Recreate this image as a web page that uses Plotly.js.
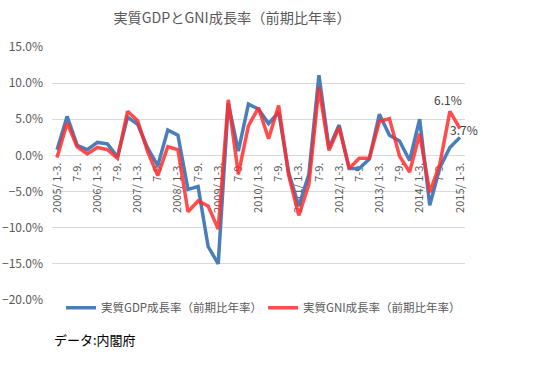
<!DOCTYPE html>
<html><head><meta charset="utf-8">
<script src="https://cdn.plot.ly/plotly-3.0.1.min.js"></script>
<style>html,body{margin:0;padding:0;background:#fff}#chart{width:538px;height:387px}</style>
</head><body><div id="chart"></div>
<script>
// Quarter labels (2005 Q1 .. 2015 Q1)
const quarters = [
 "2005/\u00a01-3.","4-6.","7-9.","10-12.",
 "2006/\u00a01-3.","4-6.","7-9.","10-12.",
 "2007/\u00a01-3.","4-6.","7-9.","10-12.",
 "2008/\u00a01-3.","4-6.","7-9.","10-12.",
 "2009/\u00a01-3.","4-6.","7-9.","10-12.",
 "2010/\u00a01-3.","4-6.","7-9.","10-12.",
 "2011/\u00a01-3.","4-6.","7-9.","10-12.",
 "2012/\u00a01-3.","4-6.","7-9.","10-12.",
 "2013/\u00a01-3.","4-6.","7-9.","10-12.",
 "2014/\u00a01-3.","4-6.","7-9.","10-12.",
 "2015/\u00a01-3."
];
// Real GDP growth (q/q annualised, %)
const gdp = [0.8,5.4,1.4,0.8,1.8,1.6,-0.2,5.3,4.3,1.0,-1.4,3.5,2.8,-4.7,-4.3,-12.6,-15.0,7.2,0.6,7.1,6.4,4.4,6.0,-2.4,-7.0,-2.6,11.1,1.0,4.2,-1.8,-1.8,-0.5,5.7,2.8,2.0,-0.7,5.0,-6.9,-1.7,1.1,2.5];
// Real GNI growth (q/q annualised, %)
const gni = [-0.3,4.5,1.2,0.2,1.1,0.8,-0.4,6.1,4.8,0.5,-2.8,1.2,0.8,-7.8,-6.3,-7.0,-10.2,7.7,-2.6,4.1,6.6,2.3,6.9,-2.8,-8.3,-4.0,9.4,0.7,3.9,-1.8,-0.4,-0.4,4.7,5.1,-0.1,-2.3,3.0,-5.1,-1.2,6.1,3.7];
const labelIdx = [39,40];
const seriesNames = ["実質GDP成長率（前期比年率）","実質GNI成長率（前期比年率）"];

const idx = quarters.map((_, i) => i);
const tickIdx = idx.filter(i => i % 2 === 0);
const font = "'Noto Sans CJK JP', 'Noto Sans', sans-serif";
const grey = "#595959";

const traces = [
 {x: idx, y: gdp, name: seriesNames[0], type: "scatter", mode: "lines",
  line: {color: "#4a7ebb", width: 3.5}, legend: "legend"},
 {x: idx, y: gni, name: seriesNames[1], type: "scatter", mode: "lines",
  line: {color: "rgb(255,45,45)", width: 3.5}, opacity: 0.85, legend: "legend2"}
];

const annotations = [
 {x: labelIdx[0], y: gni[labelIdx[0]], xref: "x", yref: "y", text: gni[labelIdx[0]].toFixed(1) + "%",
  showarrow: false, xshift: -2, yshift: 12, font: {family: font, size: 12, color: "#404040"}},
 {x: labelIdx[1], y: gni[labelIdx[1]], xref: "x", yref: "y", text: gni[labelIdx[1]].toFixed(1) + "%",
  showarrow: false, xshift: 4, yshift: -1, font: {family: font, size: 12, color: "#404040"}},
 {x: 0, y: (300.3 - 340) / 253, xref: "paper", yref: "paper", text: "データ:内閣府", showarrow: false,
  xanchor: "left", yanchor: "middle", font: {family: font, size: 13, color: "#000"}}
];

const legendBase = {orientation: "h", xanchor: "left", y: (300.3 - 308) / 253, yanchor: "middle",
   font: {family: font, size: 11.5, color: grey}, bgcolor: "rgba(0,0,0,0)", itemwidth: 30};

const layout = {
 width: 538, height: 387,
 margin: {l: 52, r: 73, t: 47.3, b: 86.7},
 paper_bgcolor: "#fff", plot_bgcolor: "#fff",
 font: {family: font, color: grey},
 title: {text: "実質GDPとGNI成長率（前期比年率）", font: {family: font, size: 14.2, color: grey},
   xref: "container", yref: "container", x: 232/538, xanchor: "center", y: 1 - 18/387, yanchor: "middle"},
 xaxis: {range: [-0.5, 40.5], anchor: "free", position: 20/35, tickmode: "array",
   tickvals: tickIdx, ticktext: tickIdx.map(i => quarters[i]), tickangle: -90,
   showgrid: false, zeroline: false, showline: false, ticks: "", layer: "below traces",
   ticklabelstandoff: 4, tickfont: {family: font, size: 11, color: grey}},
 yaxis: {range: [-20, 15], dtick: 5, tick0: 0, tickformat: ".1f", ticksuffix: "%",
   showgrid: true, gridcolor: "#d9d9d9", gridwidth: 1, zeroline: false, showline: false,
   ticks: "", ticklabelstandoff: 8, tickfont: {family: font, size: 12, color: grey}},
 showlegend: true,
 legend: Object.assign({}, legendBase, {x: (61 - 52) / 413}),
 legend2: Object.assign({}, legendBase, {x: (263 - 52) / 413}),
 annotations: annotations
};

Plotly.newPlot("chart", traces, layout, {displayModeBar: false, staticPlot: true});
</script></body></html>
